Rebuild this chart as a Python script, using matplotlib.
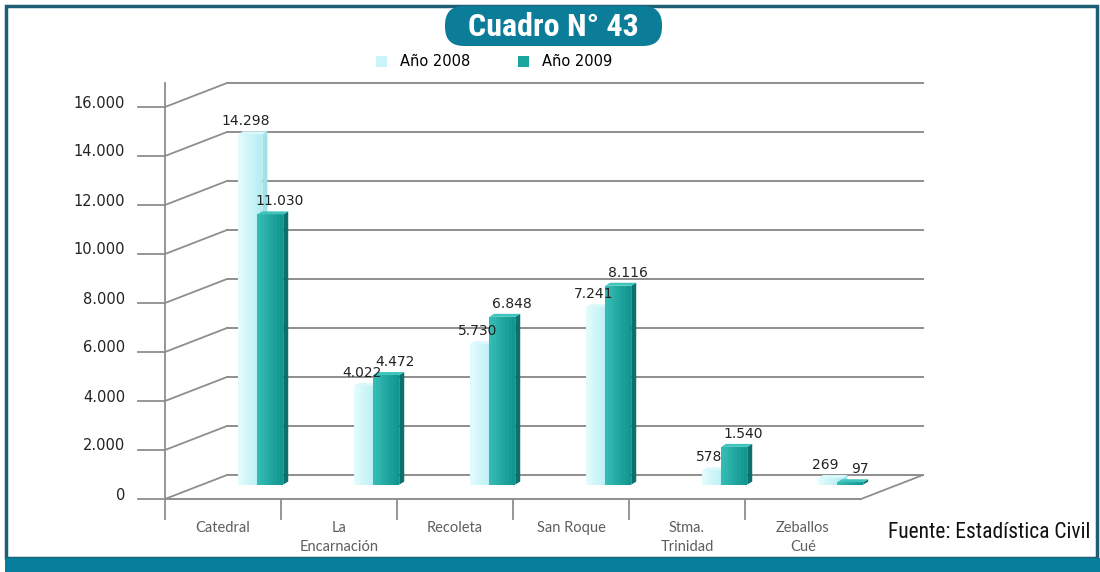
"""
Cuadro N° 43 - nacimientos por parroquia, años 2008 y 2009.
Pseudo 3D column chart redrawn with matplotlib (oblique projection).
"""

import matplotlib
matplotlib.use("Agg")
import numpy as np
import matplotlib.pyplot as plt
from matplotlib import font_manager as fm
from matplotlib.patches import Polygon, FancyBboxPatch, Rectangle, Patch


# ---------- Data ----------

categories = ["Catedral", "La\nEncarnación", "Recoleta", "San Roque",
              "Stma.\nTrinidad", "Zeballos\nCué"]
values_2008 = [14298, 4022, 5730, 7241, 578, 269]
values_2009 = [11030, 4472, 6848, 8116, 1540, 97]
series_names = ["Año 2008", "Año 2009"]
y_ticks = [0, 2000, 4000, 6000, 8000, 10000, 12000, 14000, 16000]
title_text = "Cuadro N° 43"
source_text = "Fuente: Estadística Civil"


# ---------- Fonts ----------

def pick_font(patterns, fallback_family, weight):
    """Return FontProperties of the first installed file matching a pattern."""
    files = [f.fname for f in fm.fontManager.ttflist]
    for pat in patterns:
        for fn in files:
            if fn.split("/")[-1].lower() == pat.lower():
                return fm.FontProperties(fname=fn)
    return fm.FontProperties(family=fallback_family, weight=weight)


title_font = pick_font(["RobotoCondensed-Bold.ttf", "LiberationSansNarrow-Bold.ttf",
                        "DejaVuSansCondensed-Bold.ttf"], "Liberation Sans", "bold")
source_font = pick_font(["RobotoCondensed-Regular.ttf", "LiberationSansNarrow-Regular.ttf",
                         "DejaVuSansCondensed.ttf"], "Liberation Sans", "normal")


def fmt(v):
    return f"{v:,}".replace(",", ".")


# ---------- Geometry helpers ----------

W, H = 1100, 572
PX_X = 116.0                 # pixels per category
PX_Y = 392.0 / 16000         # pixels per unit of value
DX = 62 / PX_X               # depth of the box, in category units
DY = 24 / PX_Y               # depth of the box, in value units
BAR_DEPTH = 0.6              # where the bars sit inside the box
SX, SY = 5 / PX_X, 3 / PX_Y  # thickness of each bar
GRID = "#8e8e8e"


def shade(c1, c2, t):
    c1 = np.array(matplotlib.colors.to_rgb(c1))
    c2 = np.array(matplotlib.colors.to_rgb(c2))
    return c1 + (c2 - c1) * t


def draw_bar(ax, xc, width, value, front_l, front_r, side, top, z):
    x0 = xc - width / 2
    x1 = xc + width / 2
    b = BAR_DEPTH * DY
    n = 8
    edges = np.linspace(x0, x1, n + 1)
    for i in range(n):
        ax.add_patch(Rectangle((edges[i], b), edges[i + 1] - edges[i], value,
                               facecolor=shade(front_l, front_r, i / (n - 1)),
                               edgecolor="none", zorder=z, clip_on=False))
    ax.add_patch(Polygon([(x1, b), (x1 + SX, b + SY), (x1 + SX, b + value + SY),
                          (x1, b + value)], closed=True, facecolor=side,
                         edgecolor="none", zorder=z, clip_on=False))
    ax.add_patch(Polygon([(x0, b + value), (x1, b + value), (x1 + SX, b + value + SY),
                          (x0 + SX, b + value + SY)], closed=True, facecolor=top,
                         edgecolor="none", zorder=z, clip_on=False))
    return b + value + SY


# ---------- Plot ----------

fig = plt.figure(figsize=(W / 100, H / 100), dpi=100)
fig.patch.set_facecolor("white")

# decoration layer in pixel units (frame, band, title pill)
deco = fig.add_axes([0, 0, 1, 1], zorder=0)
deco.set_xlim(0, W)
deco.set_ylim(H, 0)
deco.axis("off")
deco.add_patch(Rectangle((6, 6), 1091, 552, facecolor="none",
                         edgecolor="#1c5f76", lw=2.5))
deco.add_patch(Rectangle((5, 558), 1095, 14, facecolor="#067d9b", edgecolor="none"))
deco.add_patch(FancyBboxPatch((445, 6), 217, 40,
                              boxstyle="round,pad=0,rounding_size=19",
                              facecolor="#0b7d99", edgecolor="none", zorder=3))
deco.text(553, 27, title_text, ha="center", va="center", color="white",
          fontproperties=title_font, fontsize=23, fontweight="bold", zorder=4)
deco.text(1090, 532, source_text, ha="right", va="center", color="#111111",
          fontproperties=source_font, fontsize=15.5)

ax = fig.add_axes([165 / W, (H - 499) / H, 6 * PX_X / W, 392 / H], zorder=1)
ax.patch.set_alpha(0)
ax.set_xlim(-0.5, 5.5)
ax.set_ylim(0, 16000)
ax.axis("off")

left, right = -0.5, 5.5
tick_len = 27 / PX_X

# back wall grid, left wall slants and tick marks
for v in y_ticks:
    ax.plot([left - tick_len, left], [v, v], color=GRID, lw=1.3, zorder=1, clip_on=False)
    ax.plot([left, left + DX], [v, v + DY], color=GRID, lw=1.3, zorder=1, clip_on=False)
    ax.plot([left + DX, right + DX], [v + DY, v + DY], color=GRID, lw=1.4,
            zorder=1, clip_on=False)
    ax.text(left - 40 / PX_X, v + 4 / PX_Y, fmt(v), ha="right", va="center",
            fontsize=10.5, color="#222222", family="DejaVu Sans")

# floor and front axis
below = -20 / PX_Y
ax.plot([left, right], [0, 0], color=GRID, lw=1.4, zorder=1, clip_on=False)
ax.plot([right, right + DX], [0, DY], color=GRID, lw=1.3, zorder=1, clip_on=False)
ax.plot([left, left], [below, 16000 + DY], color=GRID, lw=1.3, zorder=1, clip_on=False)
for k in range(1, len(categories)):
    ax.plot([left + k, left + k], [0, below], color=GRID, lw=1.3, zorder=1, clip_on=False)

# category labels
for i, name in enumerate(categories):
    ax.text(i, -22 / PX_Y, name, ha="center", va="top", fontsize=10.5,
            color="#5e5e5e", family="Lato", linespacing=1.45)

# bars
light = dict(front_l="#e2fbfd", front_r="#b6eef3", side="#9fe2e8", top="#d8f8fb")
dark = dict(front_l="#34bbb3", front_r="#129690", side="#0b716d", top="#3fc4bc")
w08, w09 = 0.21, 0.225
off = 0.086
shift = BAR_DEPTH * DX

for i, (a, b) in enumerate(zip(values_2008, values_2009)):
    c = i + shift
    top08 = draw_bar(ax, c - off, w08, a, z=3, **light)
    top09 = draw_bar(ax, c + off, w09, b, z=4, **dark)
    ax.text(c - off - 0.04, top08 + 3 / PX_Y, fmt(a), ha="center", va="bottom",
            fontsize=10, color="#222222", family="DejaVu Sans", zorder=6)
    ax.text(c + off + 0.08, top09 + 3 / PX_Y, fmt(b), ha="center", va="bottom",
            fontsize=10, color="#222222", family="DejaVu Sans", zorder=6)

# legend
handles = [Patch(facecolor="#c9f5f9", edgecolor="none"),
           Patch(facecolor="#1aa59e", edgecolor="none")]
fig.legend(handles, series_names, ncol=2, loc="center",
           bbox_to_anchor=(494 / W, 1 - 62 / H), frameon=False,
           handlelength=0.75, handleheight=0.75, handletextpad=0.9,
           columnspacing=3.3, prop=fm.FontProperties(family="DejaVu Sans", size=10.5))

fig.savefig("out.png", dpi=100, facecolor="white")
